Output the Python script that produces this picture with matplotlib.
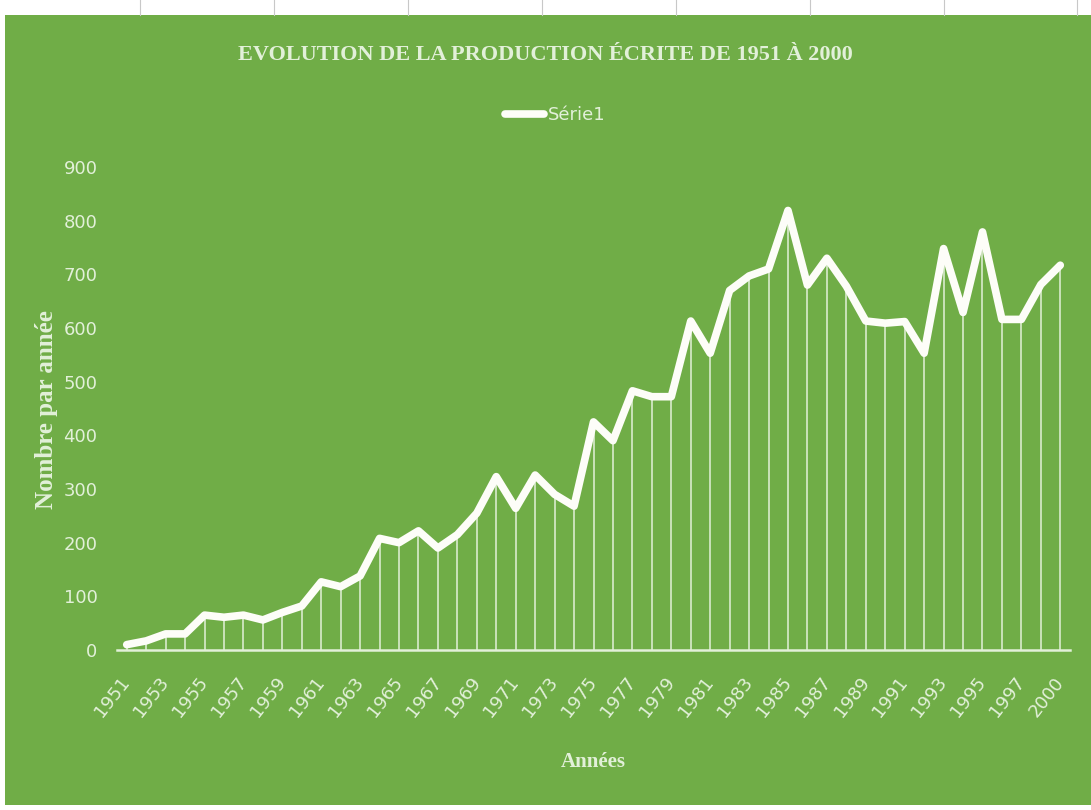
import matplotlib.pyplot as plt
from matplotlib.patches import Rectangle
from matplotlib.lines import Line2D
import numpy as np

# Data
years = ['1951', '1952', '1953', '1954', '1955', '1956', '1957', '1958', '1959', '1960',
         '1961', '1962', '1963', '1964', '1965', '1966', '1967', '1968', '1969', '1970',
         '1971', '1972', '1973', '1974', '1975', '1976', '1977', '1978', '1979', '1980',
         '1981', '1982', '1983', '1984', '1985', '1986', '1987', '1988', '1989', '1990',
         '1991', '1992', '1993', '1994', '1995', '1996', '1997', '1998', '2000']
values = [10, 17, 30, 30, 65, 61, 65, 56, 70, 82,
          127, 118, 138, 208, 200, 222, 190, 215, 255, 323,
          264, 326, 290, 268, 425, 390, 483, 472, 472, 613,
          553, 670, 697, 710, 819, 680, 730, 678, 613, 609,
          612, 553, 748, 629, 779, 616, 616, 681, 717]
y_ticks = [0, 100, 200, 300, 400, 500, 600, 700, 800, 900]

GREEN = '#70AD47'
PALE = '#E2F0D9'
sans = ['DejaVu Sans']
serif = ['Liberation Serif', 'DejaVu Serif']

fig = plt.figure(figsize=(10.91, 8.1), dpi=100, facecolor='white')

# green chart area, white spreadsheet strip on top / left
fig.patches.append(Rectangle((5 / 1091, 5 / 810), 1 - 5 / 1091, 1 - 20 / 810,
                             transform=fig.transFigure, facecolor=GREEN,
                             edgecolor='none', zorder=-10))
for gx in [140, 274, 408, 542, 676, 810, 944, 1077]:
    fig.add_artist(Line2D([gx / 1091, gx / 1091], [1 - 15 / 810, 1],
                          transform=fig.transFigure, color='#C8C8C8', lw=0.8))

ax = fig.add_axes([117 / 1091, 160 / 810, 953 / 1091, 483 / 810])
ax.set_facecolor('none')

x = np.arange(len(years))
ax.vlines(x, 0, values, color=PALE, lw=1.1, zorder=2)
ax.plot(x, values, color='#FDFDF8', lw=5.5, solid_joinstyle='round',
        solid_capstyle='round', zorder=3, label='Série1')

ax.set_xlim(-0.5, len(years) - 0.5)
ax.set_ylim(0, 900)
ax.set_yticks(y_ticks)
ax.set_yticklabels([str(v) for v in y_ticks], family=sans, fontsize=13, color=PALE)

ax.set_xticks(x[::2])
ax.set_xticklabels(years[::2], family=sans, fontsize=13, color=PALE,
                   rotation=52, ha='right', va='center', rotation_mode='anchor')
ax.tick_params(axis='x', length=0, pad=21)
ax.tick_params(axis='y', length=0, pad=14)

for side in ['top', 'right', 'left']:
    ax.spines[side].set_visible(False)
ax.spines['bottom'].set_color(PALE)
ax.spines['bottom'].set_linewidth(1.8)

fig.text(0.5, 1 - 55 / 810, 'EVOLUTION DE LA PRODUCTION ÉCRITE DE 1951 À 2000',
         ha='center', va='center', family=serif, fontweight='bold',
         fontsize=16, color=PALE)
fig.text(47 / 1091, 1 - 410 / 810, 'Nombre par année', rotation=90,
         ha='center', va='center', family=serif, fontweight='bold',
         fontsize=18, color=PALE)
fig.text(593 / 1091, 1 - 762 / 810, 'Années', ha='center', va='center',
         family=serif, fontweight='bold', fontsize=15, color=PALE)

leg = fig.legend(loc='center', bbox_to_anchor=(555 / 1091, 1 - 115 / 810),
                 frameon=False, handlelength=2.2, handletextpad=0.2,
                 prop={'family': sans, 'size': 13})
for t in leg.get_texts():
    t.set_color(PALE)

fig.savefig('out.png', dpi=100, facecolor='white')
